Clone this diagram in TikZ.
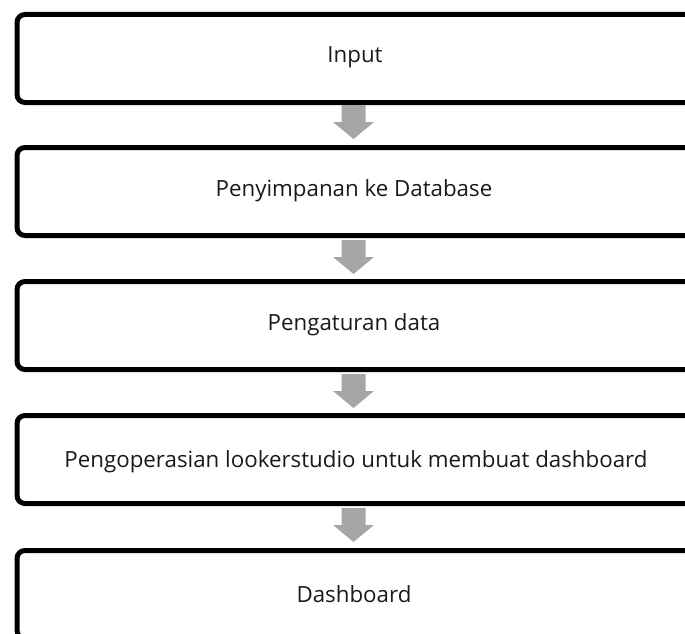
\documentclass[tikz,border=0pt]{standalone}
\usepackage{fontspec}
\setmainfont{Open Sans}
\definecolor{arrowgray}{HTML}{A6A6A6}
\definecolor{textcol}{HTML}{1A1A1A}
\begin{document}
\begin{tikzpicture}[x=1pt,y=-1pt,
  stagebox/.style={draw=black, line width=5pt, rounded corners=8pt, fill=white,
    minimum width=679pt, minimum height=88pt, inner sep=0pt, anchor=north west},
  stagetext/.style={text=textcol, font=\fontsize{22.3}{26}\selectfont, inner sep=0pt},
  downarrow/.style={fill=arrowgray, draw=none}]
\useasboundingbox (0,0) rectangle (685,634);
\node[stagebox] (b1) at (14.5,12) {};
\node[stagebox] (b2) at (14.5,145) {};
\node[stagebox] (b3) at (14.5,279) {};
\node[stagebox] (b4) at (14.5,413) {};
\node[stagebox] (b5) at (14.5,548) {};
\node[stagetext] (t1) at (355,57) {Input};
\node[stagetext] (t2) at (354,191) {Penyimpanan ke Database};
\node[stagetext] (t3) at (354,325) {Pengaturan data};
\node[stagetext] (t4) at (356,462) {Pengoperasian lookerstudio untuk membuat dashboard};
\node[stagetext] (t5) at (354,594) {Dashboard};
\coordinate (a1) at (353.5,105);
\coordinate (a2) at (353.5,240);
\coordinate (a3) at (353.5,374);
\coordinate (a4) at (353.5,508);
\foreach \a in {a1,a2,a3,a4}{
  \fill[downarrow] (\a) ++(-12,0) -- ++(24,0) -- ++(0,17) -- ++(8.5,0) -- ++(-20.5,17)
    -- ++(-20.5,-17) -- ++(8.5,0) -- cycle;
}
\end{tikzpicture}
\end{document}
